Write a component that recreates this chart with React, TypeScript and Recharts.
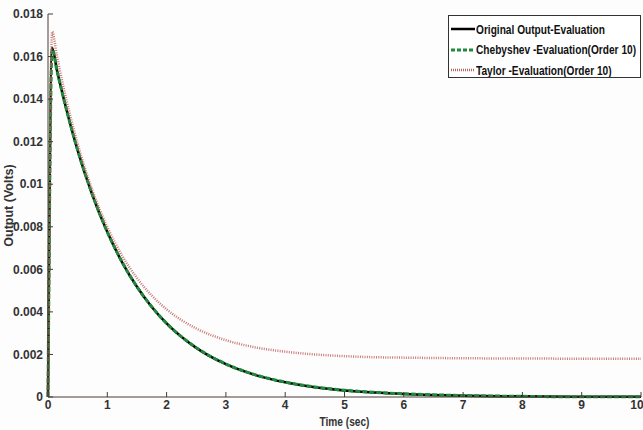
import { LineChart, Line, XAxis, YAxis } from 'recharts';

// time samples (sec) and the three responses
const time = [0, 0.07, 0.15, 0.25, 0.5, 0.75, 1, 1.25, 1.5, 1.75, 2, 2.5, 3, 3.5, 4, 4.5, 5, 5.5, 6, 7, 8, 9, 10];
const original = [0, 0.0164, 0.01537, 0.01419, 0.01159, 0.00948, 0.00775, 0.00633, 0.00518, 0.00423, 0.00346, 0.00231, 0.00154, 0.00103, 0.00069, 0.00046, 0.00031, 0.00021, 0.00014, 0.00006, 0.00003, 0.00001, 0.00001];
const chebyshev = [0, 0.01635, 0.01535, 0.01418, 0.0116, 0.0095, 0.00776, 0.00634, 0.00518, 0.00424, 0.00346, 0.00232, 0.00155, 0.00104, 0.0007, 0.00047, 0.00032, 0.00022, 0.00015, 0.00007, 0.00003, 0.00001, 0.00001];
const taylor = [0, 0.01717, 0.01604, 0.0147, 0.0119, 0.0097, 0.00799, 0.00664, 0.00559, 0.00477, 0.00412, 0.00322, 0.00267, 0.00233, 0.00213, 0.002, 0.00192, 0.00187, 0.00185, 0.00182, 0.00181, 0.0018, 0.0018];

const xTicks = [0, 1, 2, 3, 4, 5, 6, 7, 8, 9, 10];
const yTicks = [0, 0.002, 0.004, 0.006, 0.008, 0.01, 0.012, 0.014, 0.016, 0.018];

const seriesNames = ['Original Output-Evaluation', 'Chebyshev -Evaluation(Order 10)', 'Taylor -Evaluation(Order 10)'];

const data = time.map((t, i) => ({
  t,
  original: original[i],
  chebyshev: chebyshev[i],
  taylor: taylor[i],
}));

const FONT = "'Liberation Sans', Arial, sans-serif";
const AXIS = '#4a3a32';
const TEXT = '#333333';
const GREEN = '#1f8a3c';
const PINK = '#c0625e';

const tickStyle = { fontFamily: FONT, fontSize: 12, fontWeight: 700, fill: TEXT };

// x label squeezed a bit, the source text is condensed
const TimeLabel = ({ viewBox }: any) => {
  const cx = viewBox.x + viewBox.width / 2;
  return (
    <text
      x={cx}
      y={426}
      textAnchor="middle"
      textLength={50}
      lengthAdjust="spacingAndGlyphs"
      style={{ ...tickStyle, fontSize: 13 }}
    >
      Time (sec)
    </text>
  );
};

// legend drawn as an overlay box, like MATLAB's
const LegendBox = () => {
  const rows = [
    { name: seriesNames[0], stroke: '#000', dash: undefined, w: 2.5 },
    { name: seriesNames[1], stroke: GREEN, dash: '4 2', w: 3 },
    { name: seriesNames[2], stroke: PINK, dash: '1 1', w: 2.5 },
  ];
  return (
    <div
      style={{
        position: 'absolute',
        left: 448,
        top: 15,
        width: 193,
        height: 63,
        border: '1px solid #333',
        background: '#fff',
        boxSizing: 'border-box',
        fontFamily: FONT,
        fontWeight: 700,
        fontSize: 13,
        color: '#111',
        paddingTop: 3,
        overflow: 'hidden',
      }}
    >
      {rows.map((r) => (
        <div key={r.name} style={{ display: 'flex', alignItems: 'center', height: 20.5 }}>
          <svg width={25} height={10} style={{ marginLeft: 2, flex: 'none' }}>
            <line x1={0} x2={24} y1={5} y2={5} stroke={r.stroke} strokeWidth={r.w} strokeDasharray={r.dash} />
          </svg>
          <span style={{ whiteSpace: 'nowrap', display: 'inline-block', transform: 'scaleX(0.78)', transformOrigin: 'left center' }}>
            {r.name}
          </span>
        </div>
      ))}
    </div>
  );
};

const App = () => {
  return (
    <div style={{ position: 'fixed', left: 0, top: 0, width: 643, height: 430, background: '#fdfdfe' }}>
      <LineChart width={643} height={430} data={data} margin={{ top: 14, right: 2, left: 0, bottom: 0 }}>
        <XAxis
          xAxisId="bottom"
          dataKey="t"
          type="number"
          domain={[0, 10]}
          ticks={xTicks}
          height={33}
          stroke={AXIS}
          tickSize={-5}
          tickMargin={8}
          tick={tickStyle}
          label={<TimeLabel />}
        />
        <XAxis
          xAxisId="top"
          orientation="top"
          dataKey="t"
          type="number"
          domain={[0, 10]}
          ticks={xTicks}
          height={0}
          stroke={AXIS}
          tickSize={-5}
          tick={false}
        />
        <YAxis
          yAxisId="left"
          type="number"
          domain={[0, 0.018]}
          ticks={yTicks}
          width={48}
          stroke={AXIS}
          tickSize={-5}
          tickMargin={10}
          tick={tickStyle}
          tickFormatter={(v: number) => String(Number(v.toFixed(3)))}
          label={{ value: 'Output (Volts)', angle: -90, position: 'center', dx: -15, style: { ...tickStyle, fontSize: 12.5 } }}
        />
        <YAxis
          yAxisId="right"
          orientation="right"
          type="number"
          domain={[0, 0.018]}
          ticks={yTicks}
          width={0}
          stroke={AXIS}
          tickSize={-5}
          tick={false}
        />
        <Line
          xAxisId="bottom"
          yAxisId="left"
          dataKey="original"
          name={seriesNames[0]}
          type="monotone"
          stroke="#000"
          strokeWidth={2.5}
          dot={false}
          isAnimationActive={false}
        />
        <Line
          xAxisId="top"
          yAxisId="right"
          dataKey="chebyshev"
          name={seriesNames[1]}
          type="monotone"
          stroke={GREEN}
          strokeWidth={3}
          strokeDasharray="5 2"
          dot={false}
          isAnimationActive={false}
        />
        <Line
          xAxisId="bottom"
          yAxisId="left"
          dataKey="taylor"
          name={seriesNames[2]}
          type="monotone"
          stroke={PINK}
          strokeOpacity={0.85}
          strokeWidth={2.5}
          strokeDasharray="1 1.3"
          dot={false}
          isAnimationActive={false}
        />
      </LineChart>
      <LegendBox />
    </div>
  );
};

export default App;
